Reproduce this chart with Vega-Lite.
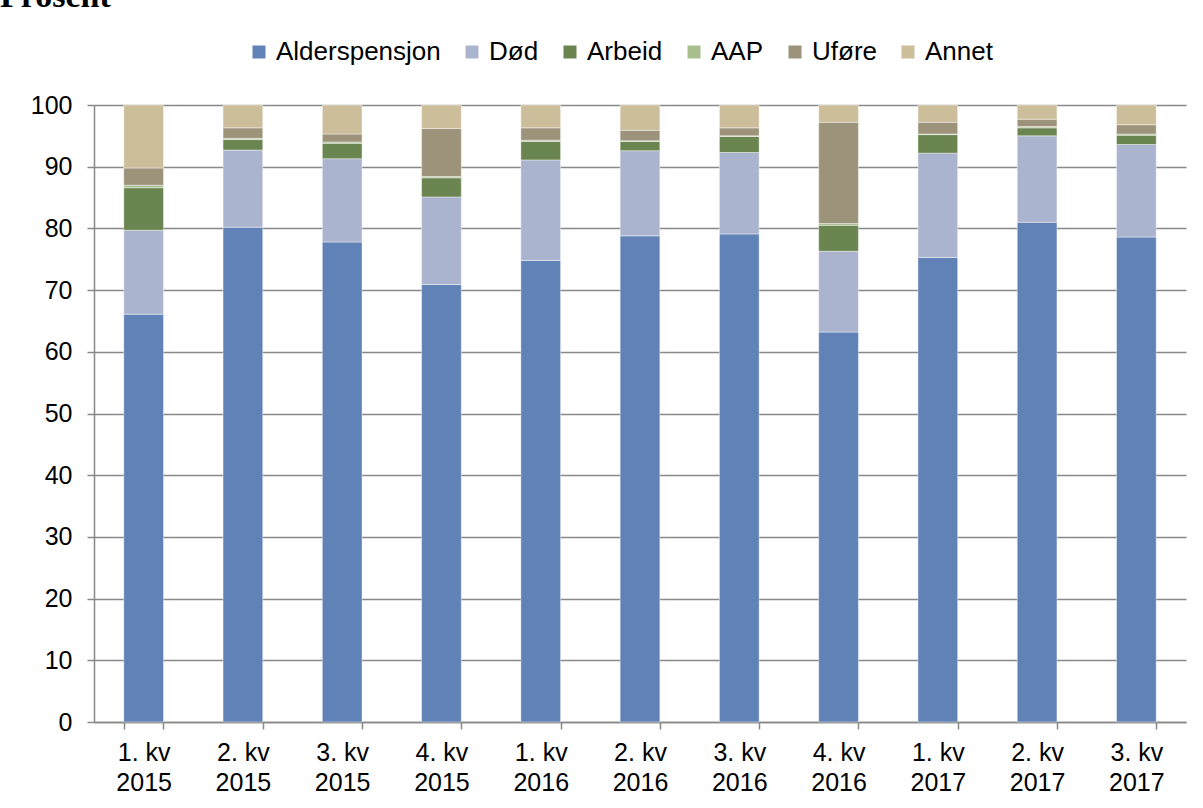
{
  "$schema": "https://vega.github.io/schema/vega-lite/v6.json",
  "width": 1092,
  "height": 617,
  "autosize": {"type": "none"},
  "padding": {"left": 94, "top": 105, "right": 17, "bottom": 86},
  "background": "white",
  "title": {
    "text": "Prosent",
    "anchor": "start",
    "frame": "group",
    "font": "Liberation Serif",
    "fontSize": 34,
    "fontWeight": "bold",
    "color": "#000000",
    "baseline": "alphabetic",
    "dx": -94,
    "dy": 28,
    "offset": 26
  },
  "data": {
    "values": [
      {"kvartal": "1. kv 2015", "kategori": "Alderspensjon", "idx": 1, "prosent": 66.1},
      {"kvartal": "1. kv 2015", "kategori": "Død", "idx": 2, "prosent": 13.6},
      {"kvartal": "1. kv 2015", "kategori": "Arbeid", "idx": 3, "prosent": 6.9},
      {"kvartal": "1. kv 2015", "kategori": "AAP", "idx": 4, "prosent": 0.4},
      {"kvartal": "1. kv 2015", "kategori": "Uføre", "idx": 5, "prosent": 2.8},
      {"kvartal": "1. kv 2015", "kategori": "Annet", "idx": 6, "prosent": 10.2},

      {"kvartal": "2. kv 2015", "kategori": "Alderspensjon", "idx": 1, "prosent": 80.2},
      {"kvartal": "2. kv 2015", "kategori": "Død", "idx": 2, "prosent": 12.5},
      {"kvartal": "2. kv 2015", "kategori": "Arbeid", "idx": 3, "prosent": 1.7},
      {"kvartal": "2. kv 2015", "kategori": "AAP", "idx": 4, "prosent": 0.2},
      {"kvartal": "2. kv 2015", "kategori": "Uføre", "idx": 5, "prosent": 1.7},
      {"kvartal": "2. kv 2015", "kategori": "Annet", "idx": 6, "prosent": 3.7},

      {"kvartal": "3. kv 2015", "kategori": "Alderspensjon", "idx": 1, "prosent": 77.8},
      {"kvartal": "3. kv 2015", "kategori": "Død", "idx": 2, "prosent": 13.5},
      {"kvartal": "3. kv 2015", "kategori": "Arbeid", "idx": 3, "prosent": 2.5},
      {"kvartal": "3. kv 2015", "kategori": "AAP", "idx": 4, "prosent": 0.2},
      {"kvartal": "3. kv 2015", "kategori": "Uføre", "idx": 5, "prosent": 1.3},
      {"kvartal": "3. kv 2015", "kategori": "Annet", "idx": 6, "prosent": 4.7},

      {"kvartal": "4. kv 2015", "kategori": "Alderspensjon", "idx": 1, "prosent": 70.9},
      {"kvartal": "4. kv 2015", "kategori": "Død", "idx": 2, "prosent": 14.2},
      {"kvartal": "4. kv 2015", "kategori": "Arbeid", "idx": 3, "prosent": 3.1},
      {"kvartal": "4. kv 2015", "kategori": "AAP", "idx": 4, "prosent": 0.2},
      {"kvartal": "4. kv 2015", "kategori": "Uføre", "idx": 5, "prosent": 7.8},
      {"kvartal": "4. kv 2015", "kategori": "Annet", "idx": 6, "prosent": 3.8},

      {"kvartal": "1. kv 2016", "kategori": "Alderspensjon", "idx": 1, "prosent": 74.8},
      {"kvartal": "1. kv 2016", "kategori": "Død", "idx": 2, "prosent": 16.3},
      {"kvartal": "1. kv 2016", "kategori": "Arbeid", "idx": 3, "prosent": 3.0},
      {"kvartal": "1. kv 2016", "kategori": "AAP", "idx": 4, "prosent": 0.2},
      {"kvartal": "1. kv 2016", "kategori": "Uføre", "idx": 5, "prosent": 2.0},
      {"kvartal": "1. kv 2016", "kategori": "Annet", "idx": 6, "prosent": 3.7},

      {"kvartal": "2. kv 2016", "kategori": "Alderspensjon", "idx": 1, "prosent": 78.8},
      {"kvartal": "2. kv 2016", "kategori": "Død", "idx": 2, "prosent": 13.8},
      {"kvartal": "2. kv 2016", "kategori": "Arbeid", "idx": 3, "prosent": 1.5},
      {"kvartal": "2. kv 2016", "kategori": "AAP", "idx": 4, "prosent": 0.1},
      {"kvartal": "2. kv 2016", "kategori": "Uføre", "idx": 5, "prosent": 1.7},
      {"kvartal": "2. kv 2016", "kategori": "Annet", "idx": 6, "prosent": 4.1},

      {"kvartal": "3. kv 2016", "kategori": "Alderspensjon", "idx": 1, "prosent": 79.1},
      {"kvartal": "3. kv 2016", "kategori": "Død", "idx": 2, "prosent": 13.2},
      {"kvartal": "3. kv 2016", "kategori": "Arbeid", "idx": 3, "prosent": 2.6},
      {"kvartal": "3. kv 2016", "kategori": "AAP", "idx": 4, "prosent": 0.1},
      {"kvartal": "3. kv 2016", "kategori": "Uføre", "idx": 5, "prosent": 1.3},
      {"kvartal": "3. kv 2016", "kategori": "Annet", "idx": 6, "prosent": 3.7},

      {"kvartal": "4. kv 2016", "kategori": "Alderspensjon", "idx": 1, "prosent": 63.2},
      {"kvartal": "4. kv 2016", "kategori": "Død", "idx": 2, "prosent": 13.1},
      {"kvartal": "4. kv 2016", "kategori": "Arbeid", "idx": 3, "prosent": 4.2},
      {"kvartal": "4. kv 2016", "kategori": "AAP", "idx": 4, "prosent": 0.3},
      {"kvartal": "4. kv 2016", "kategori": "Uføre", "idx": 5, "prosent": 16.4},
      {"kvartal": "4. kv 2016", "kategori": "Annet", "idx": 6, "prosent": 2.8},

      {"kvartal": "1. kv 2017", "kategori": "Alderspensjon", "idx": 1, "prosent": 75.3},
      {"kvartal": "1. kv 2017", "kategori": "Død", "idx": 2, "prosent": 16.9},
      {"kvartal": "1. kv 2017", "kategori": "Arbeid", "idx": 3, "prosent": 3.0},
      {"kvartal": "1. kv 2017", "kategori": "AAP", "idx": 4, "prosent": 0.1},
      {"kvartal": "1. kv 2017", "kategori": "Uføre", "idx": 5, "prosent": 1.9},
      {"kvartal": "1. kv 2017", "kategori": "Annet", "idx": 6, "prosent": 2.8},

      {"kvartal": "2. kv 2017", "kategori": "Alderspensjon", "idx": 1, "prosent": 81.0},
      {"kvartal": "2. kv 2017", "kategori": "Død", "idx": 2, "prosent": 14.0},
      {"kvartal": "2. kv 2017", "kategori": "Arbeid", "idx": 3, "prosent": 1.3},
      {"kvartal": "2. kv 2017", "kategori": "AAP", "idx": 4, "prosent": 0.2},
      {"kvartal": "2. kv 2017", "kategori": "Uføre", "idx": 5, "prosent": 1.2},
      {"kvartal": "2. kv 2017", "kategori": "Annet", "idx": 6, "prosent": 2.3},

      {"kvartal": "3. kv 2017", "kategori": "Alderspensjon", "idx": 1, "prosent": 78.6},
      {"kvartal": "3. kv 2017", "kategori": "Død", "idx": 2, "prosent": 15.0},
      {"kvartal": "3. kv 2017", "kategori": "Arbeid", "idx": 3, "prosent": 1.5},
      {"kvartal": "3. kv 2017", "kategori": "AAP", "idx": 4, "prosent": 0.2},
      {"kvartal": "3. kv 2017", "kategori": "Uføre", "idx": 5, "prosent": 1.5},
      {"kvartal": "3. kv 2017", "kategori": "Annet", "idx": 6, "prosent": 3.2}
    ]
  },
  "mark": {"type": "bar", "stroke": "#ffffff", "strokeWidth": 0.6, "strokeOpacity": 0.7},
  "encoding": {
    "x": {
      "field": "kvartal",
      "type": "nominal",
      "sort": null,
      "scale": {"paddingInner": 0.6, "paddingOuter": 0.3},
      "axis": {
        "title": null,
        "labelAngle": 0,
        "labelExpr": "[substring(datum.label, 0, 5), substring(datum.label, 6)]",
        "labelFont": "Liberation Sans",
        "labelFontSize": 25,
        "labelColor": "#000000",
        "labelLineHeight": 30,
        "labelPadding": 11,
        "labelBaseline": "top",
        "tickBand": "extent",
        "tickSize": 7,
        "tickColor": "#888888",
        "tickWidth": 1.5,
        "domainColor": "#888888",
        "domainWidth": 1.5,
        "grid": false
      }
    },
    "y": {
      "field": "prosent",
      "type": "quantitative",
      "stack": "zero",
      "scale": {"domain": [0, 100], "nice": false},
      "axis": {
        "title": null,
        "values": [0, 10, 20, 30, 40, 50, 60, 70, 80, 90, 100],
        "labelFont": "Liberation Sans",
        "labelFontSize": 25,
        "labelColor": "#000000",
        "labelPadding": 15,
        "tickSize": 7,
        "tickColor": "#888888",
        "tickWidth": 1.5,
        "domainColor": "#888888",
        "domainWidth": 1.5,
        "grid": true,
        "gridColor": "#888888",
        "gridWidth": 1.5
      }
    },
    "color": {
      "field": "kategori",
      "type": "nominal",
      "scale": {
        "domain": ["Alderspensjon", "Død", "Arbeid", "AAP", "Uføre", "Annet"],
        "range": ["#6082B6", "#ABB4CE", "#6B8551", "#A9BE8F", "#9C937A", "#CCBD9B"]
      },
      "legend": {
        "title": null,
        "orient": "none",
        "direction": "horizontal",
        "legendX": 152,
        "legendY": -66,
        "symbolType": "square",
        "symbolSize": 169,
        "symbolStrokeWidth": 0,
        "symbolOpacity": 1,
        "labelFont": "Liberation Sans",
        "labelFontSize": 26,
        "labelLimit": 400,
        "labelColor": "#000000",
        "labelOffset": 4,
        "columnPadding": 18
      }
    },
    "order": {"field": "idx", "type": "quantitative"}
  },
  "config": {
    "view": {"stroke": null}
  }
}
